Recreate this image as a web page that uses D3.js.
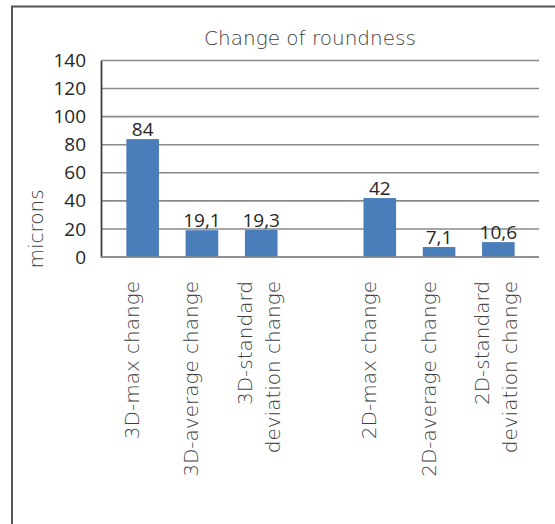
<!DOCTYPE html>
<html lang="en">
<head>
    <meta charset="UTF-8">
    <title>Change of roundness</title>
    <style>
        body { margin: 0; background: #fff; }
        svg { display: block; }
    </style>
</head>
<body>

<script src="https://d3js.org/d3.v7.min.js"></script>

<div id="my_dataviz"></div>

<script>
    // categories (label lines), one empty slot between the 3D and 2D groups
    const categoryLines = [
        ["3D-max change"],
        ["3D-average change"],
        ["3D-standard", "deviation change"],
        [],
        ["2D-max change"],
        ["2D-average change"],
        ["2D-standard", "deviation change"]
    ];
    const values = [84, 19.1, 19.3, null, 42, 7.1, 10.6];
    const yTicks = [0, 20, 40, 60, 80, 100, 120, 140];

    const width = 555, height = 524;
    const labelFont = "'DejaVu Sans', sans-serif";
    const numberFont = "'Open Sans', 'Noto Sans', sans-serif";

    const svg = d3.select("#my_dataviz")
      .append("svg")
        .attr("width", width)
        .attr("height", height);

    // outer frame (only left and top edges visible)
    svg.append("path")
        .attr("d", `M12,${height + 5}V6.5H${width + 5}`)
        .attr("fill", "none")
        .attr("stroke", "#555")
        .attr("stroke-width", 2);

    // scales
    const x = d3.scaleBand()
      .domain(d3.range(values.length))
      .range([113, 528])
      .paddingInner(0.45)
      .paddingOuter(0.225);

    const y = d3.scaleLinear()
      .domain([0, 140])
      .range([257, 60.5]);

    const plotLeft = 101, plotRight = 539;

    // gridlines
    svg.append("g")
      .selectAll("line")
      .data(yTicks)
      .join("line")
        .attr("x1", plotLeft)
        .attr("x2", plotRight)
        .attr("y1", d => y(d))
        .attr("y2", d => y(d))
        .attr("stroke", "#8a8a8a")
        .attr("stroke-width", 1.6);

    // y axis
    const yAxis = svg.append("g")
        .attr("transform", `translate(${plotLeft},0)`)
        .call(d3.axisLeft(y).tickValues(yTicks).tickSize(0).tickPadding(15));
    yAxis.select(".domain").attr("stroke", "#404040").attr("stroke-width", 1.8);
    yAxis.selectAll("text")
        .attr("font-family", numberFont)
        .attr("font-size", 19)
        .attr("fill", "#262626");

    // bars
    const barData = values.map((v, i) => ({i, v})).filter(d => d.v !== null);

    svg.append("g")
      .selectAll("rect")
      .data(barData)
      .join("rect")
        .attr("x", d => x(d.i))
        .attr("y", d => y(d.v))
        .attr("width", x.bandwidth())
        .attr("height", d => y(0) - y(d.v))
        .attr("fill", "#4a7ebb");

    // value labels
    const fmt = v => String(v).replace(".", ",");
    svg.append("g")
      .selectAll("text")
      .data(barData)
      .join("text")
        .attr("x", d => x(d.i) + x.bandwidth() / 2)
        .attr("y", d => y(d.v) - 3)
        .attr("text-anchor", "middle")
        .attr("font-family", numberFont)
        .attr("font-size", 19)
        .attr("fill", "#262626")
        .text(d => fmt(d.v));

    // zero line on top of bars
    svg.append("line")
        .attr("x1", plotLeft).attr("x2", plotRight)
        .attr("y1", y(0)).attr("y2", y(0))
        .attr("stroke", "#8a8a8a")
        .attr("stroke-width", 1.6);

    // category labels, rotated
    const catG = svg.append("g");
    categoryLines.forEach((lines, i) => {
        const cx = x(i) + x.bandwidth() / 2;
        const offsets = lines.length === 1 ? [-3.5] : [-9, 19];
        lines.forEach((line, k) => {
            catG.append("text")
                .attr("transform", `translate(${cx + offsets[k]},281) rotate(-90)`)
                .attr("text-anchor", "end")
                .attr("font-family", labelFont)
                .attr("font-weight", 200)
                .attr("font-size", 20)
                .attr("fill", "#404040")
                .text(line);
        });
    });

    // title
    svg.append("text")
        .attr("x", 310)
        .attr("y", 45)
        .attr("text-anchor", "middle")
        .attr("font-family", labelFont)
        .attr("font-weight", 200)
        .attr("font-size", 20)
        .attr("fill", "#404040")
        .text("Change of roundness");

    // y axis title
    svg.append("text")
        .attr("transform", "translate(43,229) rotate(-90)")
        .attr("text-anchor", "middle")
        .attr("font-family", labelFont)
        .attr("font-weight", 200)
        .attr("font-size", 20)
        .attr("fill", "#404040")
        .text("microns");
</script>

</body>
</html>
